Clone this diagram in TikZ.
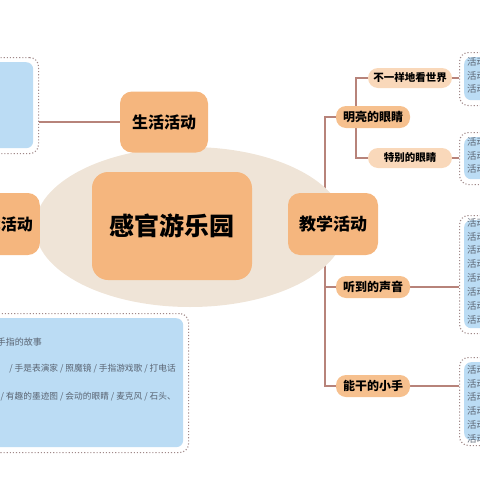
\documentclass[tikz,border=0pt]{standalone}
\usepackage{fontspec}
\newfontfamily\cjk{Noto Sans CJK SC}
\usepackage{tikz}
\usetikzlibrary{shapes,backgrounds}

\definecolor{bgoval}{HTML}{EFE4D7}
\definecolor{mainorange}{HTML}{F5B67E}
\definecolor{suborange}{HTML}{F6C08E}
\definecolor{leaforange}{HTML}{F9D8BA}
\definecolor{infoblue}{HTML}{BBDCF4}
\definecolor{linkcol}{HTML}{B7837A}
\definecolor{dotcol}{HTML}{A08888}
\definecolor{infotext}{HTML}{5A6472}

\begin{document}
\begin{tikzpicture}[x=1pt,y=-1pt,
  topic/.style={rectangle, rounded corners=12pt, fill=mainorange, font=\cjk\bfseries, align=center},
  branch/.style={rectangle, rounded corners=10pt, fill=suborange, font=\cjk\bfseries\fontsize{12}{12}\selectfont, minimum width=74pt, minimum height=22pt},
  leaf/.style={rectangle, rounded corners=10pt, fill=leaforange, font=\cjk\bfseries\fontsize{10.5}{10.5}\selectfont, minimum width=84pt, minimum height=20pt},
  infoframe/.style={rectangle, rounded corners=9pt, draw=dotcol, dotted, line width=1.1pt, fill=white, anchor=north west},
  infofill/.style={rectangle, rounded corners=7pt, fill=infoblue, anchor=north west},
  infotxt/.style={font=\cjk\fontsize{9.5}{13.9}\selectfont, text=infotext, inner sep=0pt},
  link/.style={draw=linkcol, line width=1.4pt}]
\useasboundingbox (0,0) rectangle (480,480);
\clip (0,0) rectangle (480,480);

% background oval
\node[ellipse, fill=bgoval, minimum width=310pt, minimum height=160pt] (oval) at (190,227) {};

% centre and first level
\node[topic, minimum width=160pt, minimum height=108pt, rounded corners=16pt, font=\cjk\bfseries\fontsize{25}{25}\selectfont] (park) at (172,226) {感官游乐园};
\node[topic, minimum width=88pt, minimum height=61pt, font=\cjk\bfseries\fontsize{16}{16}\selectfont] (life) at (164,122) {生活活动};
\node[topic, minimum height=62pt, text width=86pt, inner xsep=7pt, align=right, font=\cjk\bfseries\fontsize{16}{16}\selectfont, anchor=east] (play) at (40,224) {游戏活动};
\node[topic, minimum width=90pt, minimum height=62pt, font=\cjk\bfseries\fontsize{17}{17}\selectfont] (teach) at (333,224) {教学活动};

% second and third level
\node[branch] (eyes) at (373,117) {明亮的眼睛};
\node[leaf] (world) at (410,78) {不一样地看世界};
\node[leaf] (special) at (410,158) {特别的眼睛};
\node[branch] (sound) at (373,287) {听到的声音};
\node[branch] (hands) at (373,386) {能干的小手};

% info boxes, left
\node[infoframe, minimum width=100pt, minimum height=96pt] (lifebox) at (-62,57) {};
\node[infofill, minimum width=95pt, minimum height=86pt] (lifefill) at (-62,62) {};
\node[infoframe, minimum width=250pt, minimum height=139pt] (playbox) at (-62,313) {};
\node[infofill, minimum width=245pt, minimum height=129pt] (playfill) at (-62,318) {};
\node[infotxt, font=\cjk\fontsize{9}{9}\selectfont, anchor=east] (play1) at (42,342) {手指的故事};
\node[infotxt, font=\cjk\fontsize{8.7}{8.7}\selectfont, anchor=east] (play2) at (176,369) {/ 手是表演家 / 照魔镜 / 手指游戏歌 / 打电话};
\node[infotxt, font=\cjk\fontsize{8.7}{8.7}\selectfont, anchor=east] (play3) at (176,397) {/ 有趣的墨迹图 / 会动的眼睛 / 麦克风 / 石头、};

% info boxes, right
\node[infoframe, minimum width=80pt, minimum height=53pt] (worldbox) at (459,52) {};
\node[infofill, minimum width=70pt, minimum height=43pt] (worldfill) at (464,57) {};
\node[infotxt, anchor=north west, align=left] (worldtxt) at (467,57) {活动\\活动\\活动};
\node[infoframe, minimum width=80pt, minimum height=52pt] (specialbox) at (459,132) {};
\node[infofill, minimum width=70pt, minimum height=42pt] (specialfill) at (464,137) {};
\node[infotxt, anchor=north west, align=left] (specialtxt) at (467,137) {活动\\活动\\活动};
\node[infoframe, minimum width=80pt, minimum height=118pt] (soundbox) at (459,215) {};
\node[infofill, minimum width=70pt, minimum height=108pt] (soundfill) at (464,220) {};
\node[infotxt, anchor=north west, align=left] (soundtxt) at (467,218) {活动\\活动\\活动\\活动\\活动\\活动\\活动\\活动};
\node[infoframe, minimum width=80pt, minimum height=88pt] (handsbox) at (459,357) {};
\node[infofill, minimum width=70pt, minimum height=78pt] (handsfill) at (464,362) {};
\node[infotxt, anchor=north west, align=left] (handstxt) at (467,365) {活动\\活动\\活动\\活动\\活动\\活动};

% connectors
\coordinate (trunktop) at (325,193);
\coordinate (trunkbot) at (325,255);
\coordinate (eyestop) at (356,106);
\coordinate (eyesbot) at (356,128);
\begin{scope}[on background layer]
\draw[link] (life.west) -- (lifebox.east |- life.west);
\draw[link] (life.south) -- (life.south |- park.north);
\draw[link] (play.east) -- (park.west |- play.east);
\draw[link] (park.east |- teach.west) -- (teach.west);
\draw[link] (trunktop) |- (eyes.west);
\draw[link] (trunkbot) |- (sound.west);
\draw[link] (trunkbot) |- (hands.west);
\draw[link] (eyestop) |- (world.west);
\draw[link] (eyesbot) |- (special.west);
\draw[link] (world.east) -- (worldbox.west |- world.east);
\draw[link] (special.east) -- (specialbox.west |- special.east);
\draw[link] (sound.east) -- (soundbox.west |- sound.east);
\draw[link] (hands.east) -- (handsbox.west |- hands.east);
\end{scope}
\end{tikzpicture}
\end{document}
